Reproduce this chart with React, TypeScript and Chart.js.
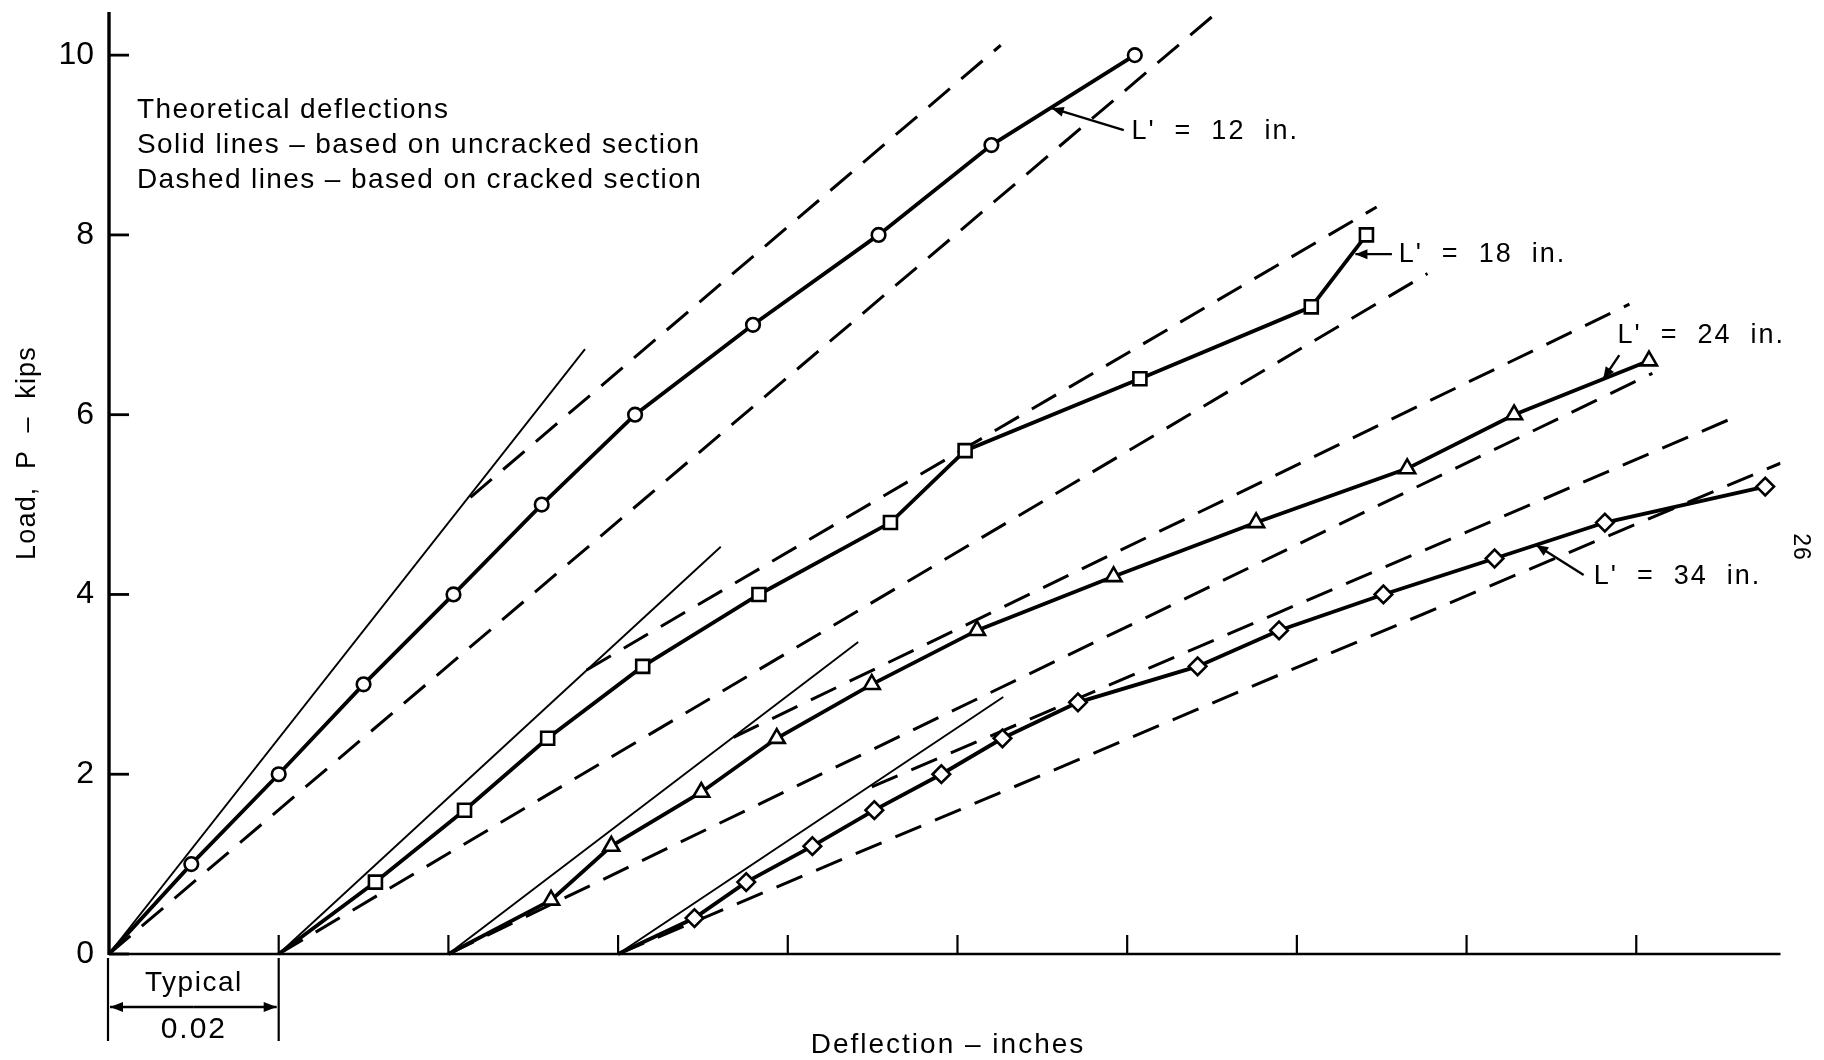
import React, { useEffect, useRef } from "react";
import { Chart, registerables } from "chart.js";

Chart.register(...registerables);

// ---------------- data ----------------
const xMax = 0.197; // inches along the axis
const yMax = 10.48; // kips
const yTicks = [0, 2, 4, 6, 8, 10];
const yTickLabels = ["0", "2", "4", "6", "8", "10"];
const xTicks = [0, 0.02, 0.04, 0.06, 0.08, 0.1, 0.12, 0.14, 0.16, 0.18];

const seriesNames = ["L'  =  12  in.", "L'  =  18  in.", "L'  =  24  in.", "L'  =  34  in."];
const seriesOrigins = [0, 0.02, 0.04, 0.06];

// measured deflections (in.) relative to each series' own origin, and loads (kips)
const load12 = [0, 1, 2, 3, 4, 5, 6, 7, 8, 9, 10];
const defl12 = [0, 0.0097, 0.02, 0.03, 0.0406, 0.051, 0.062, 0.0759, 0.0907, 0.104, 0.1209];
const load18 = [0, 0.8, 1.6, 2.4, 3.2, 4.0, 4.8, 5.6, 6.4, 7.2, 8.0];
const defl18 = [0, 0.0114, 0.0219, 0.0317, 0.0429, 0.0566, 0.0721, 0.0809, 0.1015, 0.1217, 0.1282];
const load24 = [0, 0.6, 1.2, 1.8, 2.4, 3.0, 3.6, 4.2, 4.8, 5.4, 6.0, 6.6];
const defl24 = [0, 0.0121, 0.0192, 0.0298, 0.0387, 0.0499, 0.0623, 0.0784, 0.0952, 0.113, 0.1256, 0.1415];
const load34 = [0, 0.4, 0.8, 1.2, 1.6, 2.0, 2.4, 2.8, 3.2, 3.6, 4.0, 4.4, 4.8, 5.2];
const defl34 = [0, 0.009, 0.0151, 0.0229, 0.0302, 0.0381, 0.0453, 0.0542, 0.0683, 0.0779, 0.0902, 0.1033, 0.1163, 0.1352];

// theoretical: uncracked section (thin solid, from origin)
const uncrackedEndDefl = [0.0561, 0.0521, 0.0483, 0.0454];
const uncrackedEndLoad = [6.73, 4.53, 3.47, 2.86];
// theoretical: cracked section from origin (dashed)
const crackedEndDefl = [0.1304, 0.1354, 0.1419, 0.137];
const crackedEndLoad = [10.46, 7.57, 6.46, 5.46];
// theoretical: cracked section starting at cracking load on uncracked line (dashed)
const crackedShiftStartDefl = [0.0426, 0.0363, 0.0336, 0.0299];
const crackedShiftStartLoad = [5.08, 3.16, 2.41, 1.86];
const crackedShiftEndDefl = [0.1051, 0.1294, 0.1392, 0.1318];
const crackedShiftEndLoad = [10.11, 8.31, 7.23, 5.98];

// label anchors (data coordinates): text position, arrow tail, arrow tip
const labelTextX = [0.1205, 0.152, 0.1778, 0.175];
const labelTextY = [9.155, 7.786, 6.885, 4.194];
const arrowTailX = [0.1196, 0.1512, 0.178, 0.1738];
const arrowTailY = [9.166, 7.786, 6.663, 4.216];
const arrowTipX = [0.1111, 0.1469, 0.1761, 0.1682];
const arrowTipY = [9.41, 7.786, 6.396, 4.55];

const noteLines = [
  "Theoretical deflections",
  "Solid lines \u2013 based on uncracked section",
  "Dashed lines \u2013 based on cracked section",
];

const seriesData = [
  [defl12, load12],
  [defl18, load18],
  [defl24, load24],
  [defl34, load34],
];
const markers = ["circle", "rect", "triangle", "rectRot"];
const markerRadius = [6.8, 9.2, 9.2, 8.8];

const FONT = "'Liberation Sans', Arial, sans-serif";
const NARROW = "'Liberation Sans Narrow', 'Liberation Sans', Arial, sans-serif";

function drawArrow(ctx: CanvasRenderingContext2D, x1: number, y1: number, x2: number, y2: number, len = 12, half = 4.5) {
  ctx.beginPath();
  ctx.moveTo(x1, y1);
  ctx.lineTo(x2, y2);
  ctx.stroke();
  const a = Math.atan2(y2 - y1, x2 - x1);
  ctx.beginPath();
  ctx.moveTo(x2, y2);
  ctx.lineTo(x2 - len * Math.cos(a) + half * Math.sin(a), y2 - len * Math.sin(a) - half * Math.cos(a));
  ctx.lineTo(x2 - len * Math.cos(a) - half * Math.sin(a), y2 - len * Math.sin(a) + half * Math.cos(a));
  ctx.closePath();
  ctx.fill();
}

const figurePlugin = {
  id: "figurePlugin",
  beforeDatasetsDraw(chart: any) {
    const { ctx } = chart;
    const xs = chart.scales.x;
    const ys = chart.scales.y;
    const x0 = xs.getPixelForValue(0);
    const y0 = ys.getPixelForValue(0);
    ctx.save();
    ctx.strokeStyle = "#000";
    ctx.fillStyle = "#000";
    // y axis
    ctx.lineWidth = 3.4;
    ctx.beginPath();
    ctx.moveTo(x0, y0 + 1);
    ctx.lineTo(x0, ys.getPixelForValue(yMax));
    ctx.stroke();
    // x axis
    ctx.lineWidth = 2.6;
    ctx.beginPath();
    ctx.moveTo(x0, y0);
    ctx.lineTo(xs.getPixelForValue(xMax), y0);
    ctx.stroke();
    // y ticks
    ctx.lineWidth = 2.8;
    yTicks.forEach((v) => {
      const py = ys.getPixelForValue(v);
      ctx.beginPath();
      ctx.moveTo(x0, py);
      ctx.lineTo(x0 + 20, py);
      ctx.stroke();
    });
    // x ticks (inward)
    ctx.lineWidth = 2.2;
    xTicks.forEach((v) => {
      if (v === 0) return;
      const px = xs.getPixelForValue(v);
      ctx.beginPath();
      ctx.moveTo(px, y0);
      ctx.lineTo(px, y0 - 19);
      ctx.stroke();
    });
    // y tick labels
    ctx.font = `32px ${NARROW}`;
    ctx.textAlign = "right";
    ctx.textBaseline = "middle";
    yTicks.forEach((v, i) => {
      ctx.fillText(yTickLabels[i], x0 - 15, ys.getPixelForValue(v));
    });
    ctx.restore();
  },
  afterDatasetsDraw(chart: any) {
    const { ctx } = chart;
    const xs = chart.scales.x;
    const ys = chart.scales.y;
    const x0 = xs.getPixelForValue(0);
    const x1 = xs.getPixelForValue(0.02);
    const y0 = ys.getPixelForValue(0);
    ctx.save();
    ctx.strokeStyle = "#000";
    ctx.fillStyle = "#000";

    // "Typical 0.02" dimension
    ctx.lineWidth = 2.2;
    [x0 - 1, x1].forEach((px) => {
      ctx.beginPath();
      ctx.moveTo(px, y0 + 4);
      ctx.lineTo(px, y0 + 87);
      ctx.stroke();
    });
    ctx.lineWidth = 2.4;
    const ay = y0 + 53;
    const mid = (x0 + x1) / 2;
    drawArrow(ctx, mid, ay, x0 + 1, ay, 13, 5);
    drawArrow(ctx, mid, ay, x1 - 2, ay, 13, 5);

    (ctx as any).letterSpacing = "1.5px";
    ctx.font = `28px ${FONT}`;
    ctx.textAlign = "center";
    ctx.textBaseline = "middle";
    ctx.fillText("Typical", mid, y0 + 29);
    (ctx as any).letterSpacing = "2px";
    ctx.font = `30px ${FONT}`;
    ctx.fillText("0.02", mid, y0 + 76);

    // axis titles
    (ctx as any).letterSpacing = "2px";
    ctx.font = `28px ${FONT}`;
    ctx.fillText("Deflection \u2013 inches", 948, y0 + 91);
    (ctx as any).letterSpacing = "1.2px";
    ctx.save();
    ctx.translate(28, 453);
    ctx.rotate(-Math.PI / 2);
    ctx.font = `27px ${FONT}`;
    ctx.fillText("Load,  P  \u2013  kips", 0, 0);
    ctx.restore();

    // notes
    (ctx as any).letterSpacing = "1.4px";
    ctx.font = `28px ${FONT}`;
    ctx.textAlign = "left";
    const noteY = [110, 145, 180];
    noteLines.forEach((t, i) => ctx.fillText(t, 137, noteY[i]));

    // series labels with arrows
    (ctx as any).letterSpacing = "2px";
    ctx.font = `27px ${FONT}`;
    ctx.lineWidth = 2.4;
    seriesNames.forEach((name, i) => {
      ctx.fillText(name, xs.getPixelForValue(labelTextX[i]), ys.getPixelForValue(labelTextY[i]));
      drawArrow(
        ctx,
        xs.getPixelForValue(arrowTailX[i]),
        ys.getPixelForValue(arrowTailY[i]),
        xs.getPixelForValue(arrowTipX[i]),
        ys.getPixelForValue(arrowTipY[i]),
        12,
        5
      );
    });

    // page number
    (ctx as any).letterSpacing = "1px";
    ctx.save();
    ctx.translate(1800, 547);
    ctx.rotate(Math.PI / 2);
    ctx.font = `23px ${FONT}`;
    ctx.textAlign = "center";
    ctx.fillText("26", 0, 0);
    ctx.restore();

    (ctx as any).letterSpacing = "0px";
    ctx.restore();
  },
};

export default function App() {
  const canvasRef = useRef<HTMLCanvasElement | null>(null);

  useEffect(() => {
    const canvas = canvasRef.current;
    if (!canvas) return;
    const datasets: any[] = [];

    seriesData.forEach(([defl, load], i) => {
      const off = seriesOrigins[i];
      datasets.push({
        label: seriesNames[i],
        data: defl.map((d, k) => ({ x: d + off, y: load[k] })),
        showLine: true,
        borderColor: "#000",
        borderWidth: 3.8,
        pointStyle: markers[i],
        pointRadius: defl.map((_, k) => (k === 0 ? 0 : markerRadius[i])),
        pointBackgroundColor: "#fff",
        pointBorderColor: "#000",
        pointBorderWidth: 2.6,
        order: 0,
        clip: false,
      });
    });

    seriesOrigins.forEach((off, i) => {
      datasets.push({
        label: "uncracked " + i,
        data: [
          { x: off, y: 0 },
          { x: off + uncrackedEndDefl[i], y: uncrackedEndLoad[i] },
        ],
        showLine: true,
        borderColor: "#000",
        borderWidth: 1.9,
        pointRadius: 0,
        order: 1,
      });
      datasets.push({
        label: "cracked " + i,
        data: [
          { x: off, y: 0 },
          { x: off + crackedEndDefl[i], y: crackedEndLoad[i] },
        ],
        showLine: true,
        borderColor: "#000",
        borderWidth: 3,
        borderDash: [28, 15],
        pointRadius: 0,
        order: 1,
      });
      datasets.push({
        label: "cracked shifted " + i,
        data: [
          { x: off + crackedShiftStartDefl[i], y: crackedShiftStartLoad[i] },
          { x: off + crackedShiftEndDefl[i], y: crackedShiftEndLoad[i] },
        ],
        showLine: true,
        borderColor: "#000",
        borderWidth: 3,
        borderDash: [28, 15],
        pointRadius: 0,
        order: 1,
      });
    });

    const chart = new Chart(canvas, {
      type: "scatter",
      data: { datasets },
      options: {
        animation: false,
        responsive: false,
        maintainAspectRatio: false,
        devicePixelRatio: 1,
        events: [],
        layout: { padding: { left: 109, right: 43.5, top: 12, bottom: 106 } },
        plugins: { legend: { display: false }, tooltip: { enabled: false } },
        scales: {
          x: { type: "linear", min: 0, max: xMax, display: false },
          y: { type: "linear", min: 0, max: yMax, display: false },
        },
      } as any,
      plugins: [figurePlugin as any],
    });
    return () => chart.destroy();
  }, []);

  return (
    <div style={{ position: "fixed", left: 0, top: 0, width: 1824, height: 1060, background: "#fff" }}>
      <canvas ref={canvasRef} width={1824} height={1060} style={{ display: "block", width: 1824, height: 1060 }} />
    </div>
  );
}
